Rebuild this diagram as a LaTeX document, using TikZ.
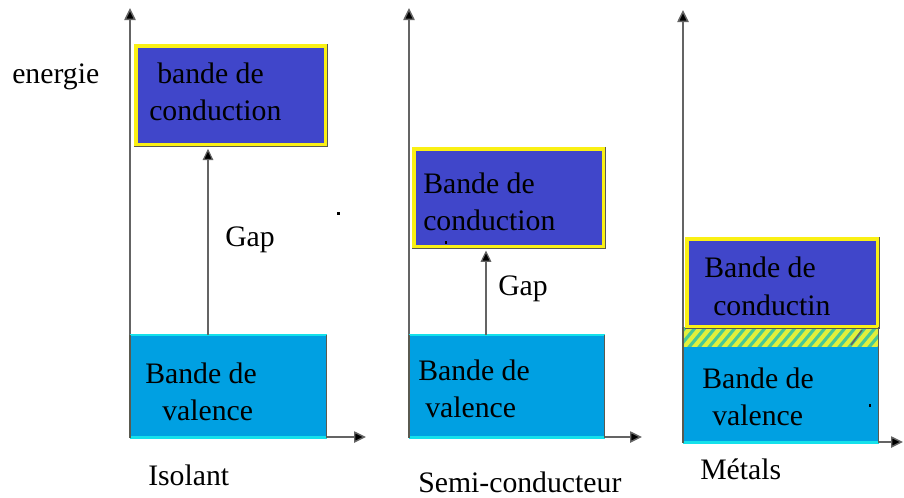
\documentclass[tikz,border=0pt]{standalone}
\usepackage{fontspec}
\setmainfont{Liberation Serif}
\usetikzlibrary{arrows.meta}
\definecolor{condblue}{RGB}{64,70,202}
\definecolor{valblue}{RGB}{0,160,226}
\definecolor{rimcyan}{RGB}{20,225,235}
\definecolor{bandyellow}{RGB}{250,240,20}
\definecolor{edgegray}{RGB}{90,90,80}
\definecolor{axisgray}{RGB}{100,100,100}
\definecolor{hatchgreen}{RGB}{70,200,150}
\definecolor{hatchyellow}{RGB}{225,240,60}
\begin{document}
\begin{tikzpicture}[x=0.75pt,y=-0.75pt,
  axis/.style={draw=axisgray,line width=1.1pt,-{Triangle[length=9pt,width=8.5pt,fill=black]}},
  gaparrow/.style={draw=axisgray,line width=0.9pt,-{Triangle[length=8.5pt,width=8pt,fill=black]}},
  condbox/.style={rectangle,inner sep=0,anchor=north west,fill=condblue,
    draw=bandyellow,line width=2.5pt,preaction={draw=edgegray,line width=3.6pt}},
  valbox/.style={rectangle,inner sep=0,anchor=north west,fill=valblue},
  rim/.style={draw=rimcyan,line width=2pt},
  side/.style={draw=edgegray,line width=1.1pt},
  lbl/.style={anchor=base west,inner sep=0,font=\fontsize{22.3}{26}\selectfont}]
\useasboundingbox (0,0) rectangle (904,497);

% ---------- axes ----------
\coordinate (o1) at (130,437);  \coordinate (ya) at (130,8);  \coordinate (xa) at (366,437);
\coordinate (o2) at (409,437);  \coordinate (yb) at (409,8);  \coordinate (xb) at (642,437);
\coordinate (o3) at (683,442);  \coordinate (yc) at (683,10); \coordinate (xc) at (903,442);
\draw[axis] (o1) -- (ya);  \draw[axis] (o1) -- (xa);
\draw[axis] (o2) -- (yb);  \draw[axis] (o2) -- (xb);
\draw[axis] (o3) -- (yc);  \draw[axis] (o3) -- (xc);

% ---------- isolant ----------
\node[condbox,minimum width=142.2pt,minimum height=74pt] (c1) at (134.4,44.4) {};
\node[valbox,minimum width=147pt,minimum height=76.5pt] (v1) at (130,335) {};
\draw[rim] (v1.north west) -- (v1.north east);
\draw[rim] (v1.south west) -- (v1.south east);
\draw[side] (v1.north west) -- (v1.south west);
\draw[side] (v1.north east) -- (v1.south east);
\coordinate (g1) at (208,0);
\draw[gaparrow] (v1.north -| g1) -- ([yshift=-1.8pt]c1.south -| g1);

% ---------- semi-conducteur ----------
\node[condbox,minimum width=142.2pt,minimum height=73pt] (c2) at (412.4,147.4) {};
\node[valbox,minimum width=146.25pt,minimum height=76.5pt] (v2) at (409,335) {};
\draw[rim] (v2.north west) -- (v2.north east);
\draw[rim] (v2.south west) -- (v2.south east);
\draw[side] (v2.north west) -- (v2.south west);
\draw[side] (v2.north east) -- (v2.south east);
\coordinate (g2) at (486,0);
\draw[gaparrow] (v2.north -| g2) -- ([yshift=-1.8pt]c2.south -| g2);

% ---------- metal ----------
\node[rectangle,inner sep=0,anchor=north west,fill=hatchgreen,
      minimum width=146.25pt,minimum height=15pt] (h3) at (683,327) {};
\begin{scope}
  \clip (h3.north west) rectangle (h3.south east);
  \foreach \k in {0,...,22} {
    \draw[hatchyellow,line width=3.2pt] (670+10*\k,352) -- (695+10*\k,322);
  }
\end{scope}
\node[condbox,minimum width=143pt,minimum height=65.5pt] (c3) at (685.4,237.4) {};
\node[valbox,minimum width=146.25pt,minimum height=71.25pt] (v3) at (683,347) {};
\draw[axisgray,line width=1.2pt] (851,345) -- (862,330);
\draw[rim] (v3.south west) -- (v3.south east);
\draw[side] (v3.north west) -- (v3.south west);
\draw[side] (v3.north east) -- (v3.south east);
\draw[side] (h3.north west) -- (h3.south west);
\draw[side] (h3.north east) -- (h3.south east);

% ---------- stray marks ----------
\fill (337,212) rectangle (340,215);
\fill (445,241) rectangle (447,244);
\fill (869,404) rectangle (871,407);

% ---------- labels ----------
\node[lbl] (t1a) at (157,83)  {bande de};
\node[lbl] (t1b) at (149,120) {conduction};
\node[lbl] (t1c) at (145,383) {Bande de};
\node[lbl] (t1d) at (162,420) {valence};
\node[lbl] (gap1) at (225,246) {Gap};

\node[lbl] (t2a) at (423,193) {Bande de};
\node[lbl] (t2b) at (423,230) {conduction};
\node[lbl] (t2c) at (418,380) {Bande de};
\node[lbl] (t2d) at (425,417) {valence};
\node[lbl] (gap2) at (498,295) {Gap};

\node[lbl] (t3a) at (704,277) {Bande de};
\node[lbl] (t3b) at (713,315) {conductin};
\node[lbl] (t3c) at (702,388) {Bande de};
\node[lbl] (t3d) at (712,425) {valence};

\node[lbl] (en) at (12,83) {energie};
\node[lbl] (is) at (148,485) {Isolant};
\node[lbl] (sc) at (418,492) {Semi-conducteur};
\node[lbl] (me) at (700,479) {Métals};
\end{tikzpicture}
\end{document}
